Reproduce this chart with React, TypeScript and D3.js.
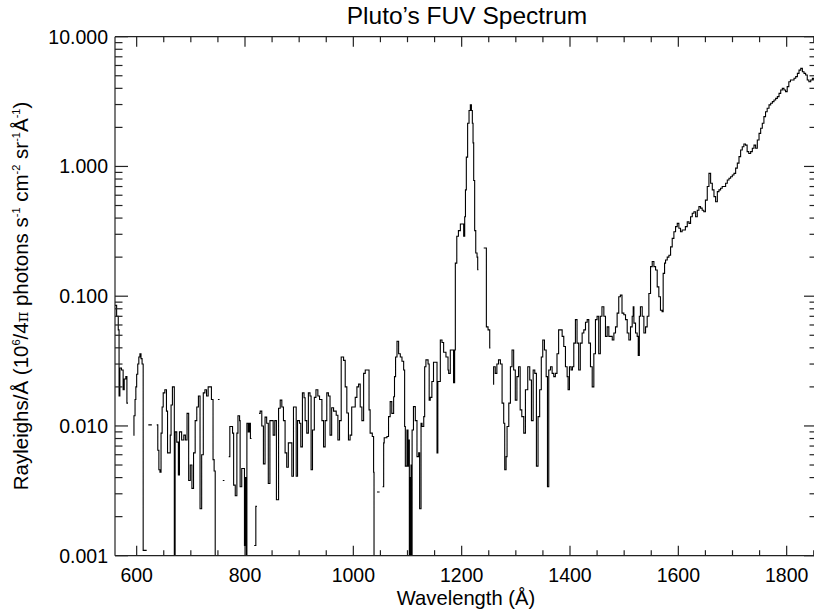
import React from "react";
import * as d3 from "d3";

// [wavelength (Å), flux] — null flux marks a gap in the spectrum
const spectrum: [number, number | null][] = [
  [560, 0.085], [563, 0.07], [566, 0.055], [567.5, 0.017], [569, 0.028], [572, 0.027], [575, 0.019],
  [577, 0.023], [580, 0.024], [582, 0.015], [584, null],
  [594, 0.0085], [595, 0.012], [597, 0.016], [598.5, 0.02], [600, 0.025], [602, 0.03], [604, 0.034],
  [606, 0.036], [608, 0.033], [610, 0.03], [612, 0.0011], [618.5, null],
  [621.5, 0.0102], [628, null],
  [637, 0.0102], [639, 0.0065], [641, 0.0046], [643, 0.0044], [645, 0.0088], [647, 0.014], [649, 0.018],
  [652, 0.019], [655, 0.013], [657, 0.0062], [660, 0.0062], [662, 0.0085], [663.5, 0.0145], [666, 0.02],
  [668, 0.02], [669.5, 0.0003], [671, 0.009], [674, 0.0075], [677, 0.0042], [679, 0.009], [683, 0.0078],
  [687, 0.0085], [690, 0.0078], [693, 0.0125], [696, 0.0038], [699, 0.005], [702, 0.0033], [705, 0.0062],
  [708, 0.011], [711, 0.014], [714, 0.017], [717, 0.0023], [720, 0.006], [723, 0.018], [726, 0.019],
  [729, 0.017], [732, 0.02], [735, 0.02], [738, 0.016], [741, 0.0055], [743, 0.0045], [745, 0.0003],
  [747, null],
  [750, 0.016], [753, null],
  [759, 0.0038], [762, null],
  [770, 0.0058], [772, 0.0099], [775, 0.0099], [777, 0.0088], [779, 0.0035], [782, 0.0029], [785, 0.0088],
  [787, 0.012], [790, 0.011], [791, 0.0034], [794, 0.0047], [797, 0.0047], [799, 0.0012], [800.5, 0.004],
  [802, 0.0003], [803.5, 0.0105], [806, 0.009], [808, 0.0105], [810, 0.008], [812, null],
  [817, 0.0012], [820, 0.0024], [822, null],
  [826, 0.0125], [828, 0.013], [831, 0.01], [834, 0.0051], [837, 0.0117], [840, 0.0105], [843, 0.0036],
  [846, 0.011], [849, 0.011], [852, 0.0085], [855, 0.011], [858, 0.0027], [862, 0.0137], [865, 0.0158],
  [868, 0.014], [871, 0.011], [874, 0.0062], [877, 0.0048], [880, 0.0074], [883, 0.0074], [886.5, 0.0041],
  [889.5, 0.014], [892.6, 0.014], [894.5, 0.0041], [897, 0.011], [900.6, 0.0105], [903, 0.0069],
  [906, 0.018], [909, 0.0165], [911, 0.011], [914, 0.0088], [917, 0.018], [920, 0.017], [922, 0.0046],
  [924.6, 0.0093], [928, 0.0166], [931, 0.019], [934.5, 0.017], [937.6, 0.016], [942, 0.011],
  [945, 0.0069], [948, 0.011], [951, 0.018], [954, 0.017], [957, 0.0085], [960, 0.0138], [963.5, 0.013],
  [968.4, 0.0121], [971.5, 0.0078], [974.5, 0.011], [977.6, 0.034], [982, 0.032], [985, 0.02],
  [988, 0.0126], [991, 0.0078], [994, 0.0085], [997, 0.014], [1003.5, 0.0166], [1006.6, 0.02],
  [1009.7, 0.021], [1012.7, 0.014], [1015.8, 0.011], [1019, 0.0254], [1022, 0.027], [1026, 0.027],
  [1029, 0.0133], [1031, 0.0088], [1035, 0.0083], [1037.4, 0.0044], [1038.2, 0.0003], [1040, null],
  [1043.6, 0.0031], [1048.5, null],
  [1054, 0.0034], [1056, 0.0074], [1057, 0.0081], [1062, 0.0083], [1065, 0.0118], [1068, 0.0154],
  [1071, 0.0125], [1074.4, 0.0168], [1076, 0.024], [1078, 0.034], [1080.6, 0.045], [1083.6, 0.036],
  [1086.7, 0.034], [1089.8, 0.0315], [1092.9, 0.027], [1094.7, 0.0099], [1096, 0.0049], [1099, 0.0093],
  [1100.9, 0.0049], [1102, 0.0078], [1103.4, 0.0003], [1104.5, 0.004], [1105.5, 0.0003], [1106.5, 0.005],
  [1107.5, 0.0003], [1108.5, 0.0093], [1111, 0.0141], [1114.4, 0.011], [1117.5, 0.0058], [1120.6, 0.0062],
  [1122.4, 0.0023], [1125, 0.0105], [1126.8, 0.0099], [1130, 0.0118], [1131.7, 0.0286], [1134, 0.0323],
  [1138, 0.03], [1140, 0.0158], [1142, 0.0166], [1145, 0.022], [1148, 0.031], [1151, 0.031],
  [1154.5, 0.0062], [1156, 0.022], [1160.6, 0.046], [1163.7, 0.044], [1166.7, 0.037], [1171, 0.034],
  [1174.8, 0.027], [1176, 0.0254], [1179, 0.0385], [1183, 0.0385], [1185, 0.0215], [1187, 0.0385],
  [1188.3, 0.18], [1191, 0.29], [1194, 0.32], [1197.6, 0.36], [1200.6, 0.36], [1203.7, 0.29],
  [1205.6, 0.41], [1207, 0.66], [1208.6, 1.18], [1211, 2.15], [1213.6, 2.7], [1216, 2.98], [1218, 2.7],
  [1219.7, 2.15], [1221, 1.52], [1222.2, 0.78], [1224, 0.32], [1226, 0.215], [1228.4, 0.2],
  [1229.6, 0.16], [1231, null],
  [1240.7, 0.235], [1245.6, 0.058], [1248.7, 0.055], [1251.8, 0.04], [1253, null],
  [1258, 0.021], [1259, 0.0286], [1262, 0.0254], [1265, 0.03], [1268, 0.0323], [1271.5, 0.03],
  [1274.6, 0.015], [1277.6, 0.0105], [1279.5, 0.0046], [1282, 0.0058], [1283.8, 0.0099], [1287, 0.015],
  [1290, 0.0286], [1293, 0.0385], [1296, 0.027], [1299, 0.0158], [1302, 0.024], [1305, 0.0286],
  [1308, 0.0133], [1311, 0.0118], [1314.6, 0.0088], [1317.7, 0.019], [1322, 0.0286], [1325.7, 0.0226],
  [1328.8, 0.011], [1332, 0.027], [1335, 0.0254], [1338, 0.0049], [1341, 0.0118], [1344, 0.019],
  [1347, 0.034], [1349.7, 0.046], [1352.8, 0.0385], [1356, 0.024], [1358.4, 0.0034], [1360.8, 0.027],
  [1364, 0.0286], [1367, 0.0254], [1370, 0.024], [1373, 0.0254], [1376, 0.036], [1379, 0.055],
  [1382, 0.055], [1385.5, 0.049], [1388.5, 0.041], [1391.6, 0.0286], [1394.7, 0.024], [1396.5, 0.019],
  [1399, 0.0286], [1402, 0.027], [1404.5, 0.0286], [1407, 0.0435], [1410, 0.066], [1413, 0.0435],
  [1416, 0.027], [1419, 0.0435], [1422.4, 0.052], [1425.5, 0.055], [1428.6, 0.063], [1431.7, 0.066],
  [1434.7, 0.0435], [1437.8, 0.0286], [1441, 0.02], [1444, 0.036], [1447, 0.066], [1450, 0.07],
  [1453, 0.036], [1456, 0.07], [1459, 0.083], [1462.5, 0.07], [1465.5, 0.049], [1468.6, 0.058],
  [1471.7, 0.049], [1474.8, 0.049], [1478, 0.046], [1481, 0.052], [1484, 0.058], [1487, 0.074],
  [1490, 0.099], [1493, 0.102], [1496, 0.074], [1499.4, 0.072], [1502.5, 0.066], [1505.6, 0.052],
  [1508.7, 0.046], [1511.7, 0.058], [1514.8, 0.07], [1516.7, 0.083], [1518, 0.062], [1521, 0.052],
  [1524, 0.049], [1526, 0.035], [1528, 0.07], [1530, 0.083], [1533.3, 0.07], [1536.4, 0.052],
  [1539.5, 0.058], [1542.5, 0.07], [1545.6, 0.105], [1548.7, 0.169], [1551.8, 0.185], [1554.9, 0.169],
  [1558, 0.159], [1561, 0.118], [1564, 0.099], [1567, 0.078], [1570, 0.076], [1572, 0.15],
  [1574.6, 0.18], [1576.4, 0.19], [1579.5, 0.2], [1582.6, 0.207], [1585.7, 0.24], [1588.7, 0.279],
  [1591.8, 0.314], [1594.9, 0.344], [1598, 0.364], [1601, 0.334], [1604, 0.314], [1607, 0.324],
  [1610, 0.324], [1613, 0.344], [1616.5, 0.375], [1619.6, 0.364], [1622.6, 0.41], [1625.7, 0.436],
  [1628.8, 0.448], [1631.9, 0.41], [1635, 0.46], [1638, 0.49], [1641, 0.477], [1644, 0.46],
  [1647, 0.448], [1650, 0.55], [1653.4, 0.7], [1656.5, 0.885], [1659.6, 0.742], [1662.7, 0.66],
  [1665.8, 0.585], [1668.8, 0.535], [1672, 0.64], [1675, 0.66], [1678, 0.68], [1681, 0.7], [1684, 0.7],
  [1687.3, 0.742], [1690.4, 0.787], [1693.5, 0.81], [1696.5, 0.834], [1699.6, 0.86], [1702.7, 0.885],
  [1705.8, 0.97], [1708.9, 1.06], [1712, 1.19], [1715, 1.34], [1718, 1.42], [1721, 1.49], [1724, 1.46],
  [1727, 1.3], [1730, 1.26], [1733.5, 1.3], [1736.6, 1.38], [1739.7, 1.46], [1742.7, 1.38],
  [1745.8, 1.6], [1749, 1.8], [1752, 1.97], [1755, 2.15], [1758, 2.42], [1761, 2.64], [1764, 2.81],
  [1767.4, 2.98], [1770.5, 3.07], [1773.6, 3.16], [1776.6, 3.25], [1779.7, 3.35], [1782.8, 3.45],
  [1785.9, 3.66], [1789, 3.88], [1792, 4.0], [1795, 3.88], [1798, 3.77], [1801, 4.12], [1804, 4.5],
  [1807, 4.64], [1810, 4.64], [1813.6, 4.78], [1816.7, 4.92], [1819.8, 5.22], [1822.8, 5.53],
  [1826, 5.7], [1829, 5.37], [1832, 5.22], [1835, 5.07], [1838, 4.64], [1841, 4.5], [1844.4, 4.64],
  [1847.5, 4.78], [1850, 4.64],
];

const xMajorTicks = [600, 800, 1000, 1200, 1400, 1600, 1800];
const xMinorTicks = [650, 700, 750, 850, 900, 950, 1050, 1100, 1150, 1250, 1300, 1350, 1450, 1500, 1550, 1650, 1700, 1750, 1850];
const yMajorTicks = [0.001, 0.01, 0.1, 1, 10];
const yTickLabels = ["0.001", "0.010", "0.100", "1.000", "10.000"];
const yMinorMultipliers = [2, 3, 4, 5, 6, 7, 8, 9];

const titleText = "Pluto\u2019s FUV Spectrum";
const xLabelText = "Wavelength (\u00C5)";

const W = 814;
const H = 609;
const X0 = 115;
const X1 = 817;
const Y0 = 36.7;
const Y1 = 555.7;
const FONT = "'Liberation Sans', Arial, Helvetica, sans-serif";

export default function App() {
  const x = d3.scaleLinear().domain([560, 1856]).range([X0, X1]);
  const y = d3.scaleLog().domain([0.001, 10]).range([Y1, Y0]).clamp(true);

  // build histogram-style steps
  const pts: { w: number; f: number | null }[] = [];
  for (let i = 0; i < spectrum.length; i++) {
    const [w, f] = spectrum[i];
    const wn = i + 1 < spectrum.length ? spectrum[i + 1][0] : 1853;
    if (f == null) {
      pts.push({ w, f: null });
      continue;
    }
    pts.push({ w, f });
    pts.push({ w: wn, f });
  }
  const line = d3
    .line<{ w: number; f: number | null }>()
    .defined((d) => d.f != null)
    .x((d) => x(d.w))
    .y((d) => y(d.f as number));
  const pathD = line(pts) || "";

  const yMinor: number[] = [];
  [0.001, 0.01, 0.1, 1].forEach((dec) =>
    yMinorMultipliers.forEach((k) => yMinor.push(dec * k))
  );

  const axisColor = "#222";
  const sw = 1.2;
  const supSize = 11;

  return (
    <svg
      width={W}
      height={H}
      style={{ position: "fixed", left: 0, top: 0, background: "#fff" }}
      fontFamily={FONT}
    >
      <rect x={0} y={0} width={W} height={H} fill="#fff" />
      <defs>
        <clipPath id="plotClip">
          <rect x={X0} y={Y0} width={X1 - X0} height={Y1 - Y0} />
        </clipPath>
      </defs>

      {/* spectrum */}
      <path
        d={pathD}
        fill="none"
        stroke="#000"
        strokeWidth={1.1}
        clipPath="url(#plotClip)"
      />

      {/* frame */}
      <g stroke={axisColor} strokeWidth={sw} fill="none">
        <line x1={X0} x2={X1} y1={Y1} y2={Y1} />
        <line x1={X0} x2={X1} y1={Y0} y2={Y0} />
        <line x1={X0} x2={X0} y1={Y0} y2={Y1} />
        <line x1={X1} x2={X1} y1={Y0} y2={Y1} />
      </g>

      {/* x ticks bottom and top */}
      <g stroke={axisColor} strokeWidth={sw}>
        {xMajorTicks.map((t) => (
          <g key={"xM" + t}>
            <line x1={x(t)} x2={x(t)} y1={Y1} y2={Y1 - 10} />
            <line x1={x(t)} x2={x(t)} y1={Y0} y2={Y0 + 10} />
          </g>
        ))}
        {xMinorTicks.map((t) => (
          <g key={"xm" + t}>
            <line x1={x(t)} x2={x(t)} y1={Y1} y2={Y1 - 5.5} />
            <line x1={x(t)} x2={x(t)} y1={Y0} y2={Y0 + 5.5} />
          </g>
        ))}
      </g>

      {/* y ticks left and right */}
      <g stroke={axisColor} strokeWidth={sw}>
        {yMajorTicks.map((t) => (
          <g key={"yM" + t}>
            <line x1={X0} x2={X0 + 13} y1={y(t)} y2={y(t)} />
            <line x1={X1} x2={X1 - 13} y1={y(t)} y2={y(t)} />
          </g>
        ))}
        {yMinor.map((t, i) => (
          <g key={"ym" + i}>
            <line x1={X0} x2={X0 + 7.5} y1={y(t)} y2={y(t)} />
            <line x1={X1} x2={X1 - 7.5} y1={y(t)} y2={y(t)} />
          </g>
        ))}
      </g>

      {/* x tick labels */}
      <g fontSize={19.5} fill="#000" textAnchor="middle">
        {xMajorTicks.map((t) => (
          <text key={"xl" + t} x={x(t)} y={581.5}>
            {String(t)}
          </text>
        ))}
      </g>

      {/* y tick labels */}
      <g fontSize={19.5} fill="#000" textAnchor="end">
        {yMajorTicks.map((t, i) => (
          <text key={"yl" + t} x={108} y={y(t) + 7}>
            {yTickLabels[i]}
          </text>
        ))}
      </g>

      {/* title */}
      <text x={467} y={24} fontSize={24.5} textAnchor="middle" fill="#000">
        {titleText}
      </text>

      {/* x label */}
      <text x={466} y={604.5} fontSize={20.2} textAnchor="middle" fill="#000">
        {xLabelText}
      </text>

      {/* y label */}
      <text
        transform={`translate(28, 296) rotate(-90)`}
        fontSize={20.5}
        textAnchor="middle"
        fill="#000"
      >
        <tspan>Rayleighs/Å (10</tspan>
        <tspan fontSize={supSize} dy={-8}>6</tspan>
        <tspan dy={8}>/4</tspan>
        <tspan fontFamily="'DejaVu Serif', serif" fontSize={16}>π</tspan>
        <tspan> photons s</tspan>
        <tspan fontSize={supSize} dy={-8}>-1</tspan>
        <tspan dy={8}> cm</tspan>
        <tspan fontSize={supSize} dy={-8}>-2</tspan>
        <tspan dy={8}> sr</tspan>
        <tspan fontSize={supSize} dy={-8}>-1</tspan>
        <tspan dy={8}>Å</tspan>
        <tspan fontSize={supSize} dy={-8}>-1</tspan>
        <tspan dy={8}>)</tspan>
      </text>
    </svg>
  );
}
